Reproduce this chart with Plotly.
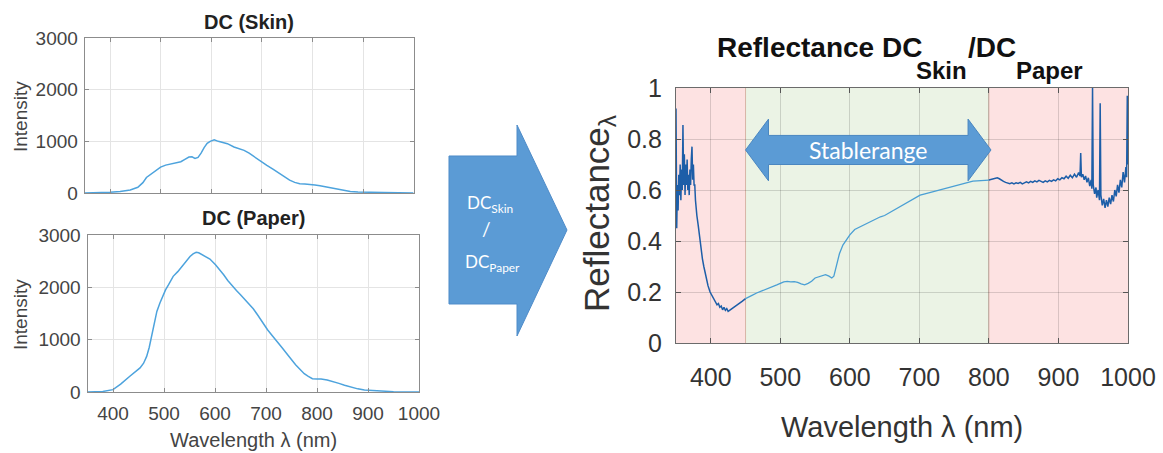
import plotly.graph_objects as go

# ---------------- data ----------------
wl_skin = [350, 380, 400, 420, 440, 455, 465, 472, 480, 490, 500, 510, 520, 530, 540, 548, 556, 562, 568, 574,
           580, 586, 592, 598, 606, 614, 622, 632, 645, 655, 665, 675, 685, 697, 710, 722, 735, 745, 755, 765,
           775, 785, 795, 805, 815, 825, 835, 848, 860, 875, 890, 910, 940, 970, 1000]
dc_skin = [0, 5, 15, 30, 60, 110, 200, 300, 360, 440, 500, 540, 560, 575, 605, 650, 695, 700, 670, 690,
           770, 880, 960, 1000, 1030, 1000, 985, 955, 890, 860, 825, 770, 700, 620, 535, 460, 375, 310, 250, 205,
           180, 172, 168, 155, 140, 120, 100, 75, 50, 30, 20, 12, 8, 5, 0]

wl_paper = [350, 380, 400, 415, 433, 445, 453, 460, 466, 471, 476, 481, 486, 492, 497, 503, 509, 518, 527, 535,
            543, 551, 557, 563, 568, 575, 582, 590, 601, 609, 617, 625, 634, 642, 650, 658, 666, 675, 683, 693,
            703, 712, 722, 732, 742, 750, 758, 766, 775, 783, 791, 800, 808, 820, 831, 843, 854, 867, 880, 893,
            907, 925, 950, 975, 1000]
dc_paper = [0, 10, 45, 150, 300, 390, 460, 550, 680, 850, 1060, 1300, 1540, 1700, 1830, 1950, 2050, 2210, 2300, 2400,
            2490, 2590, 2640, 2670, 2660, 2620, 2580, 2540, 2430, 2340, 2240, 2130, 2020, 1940, 1860, 1780, 1700, 1590, 1480, 1330,
            1190, 1080, 970, 840, 715, 610, 520, 440, 350, 300, 255, 250, 250, 230, 205, 165, 130, 95, 60, 40,
            30, 15, 5, 0, 0]

wl_refl = [350, 351, 352, 353, 354, 355, 356, 357, 358, 359, 360, 361, 362, 363, 364, 365, 366, 367, 368, 369,
           370, 371, 372, 373, 374, 375, 376, 377, 378, 379, 380, 382, 384, 386, 388, 390, 392, 394, 396, 399,
           402, 405, 407, 409, 411, 413, 415, 417, 419, 421, 423, 425, 428, 431, 434, 437, 441, 445, 450,
           455, 460, 466, 472, 478, 485, 490, 495, 500, 505, 510, 515, 520, 525, 530, 535, 540, 545, 550, 555,
           560, 565, 570, 574, 577, 581, 585, 590, 595, 600, 607, 615, 622, 629, 636, 644, 650, 655, 660, 666,
           672, 680, 688, 695, 701, 708, 715, 722, 730, 737, 745, 754, 760, 766, 772, 777, 783, 790, 796, 800,
           803, 806, 809, 812, 815, 818, 821, 824, 827, 830, 833, 836, 839, 842, 845, 848, 851, 854, 857, 860,
           863, 866, 869, 872, 875, 878, 881, 884, 887, 890, 893, 896, 899, 902, 905, 908, 911, 914, 917, 920,
           923, 926, 929, 931, 932, 933, 935, 937, 939, 941, 943, 945, 947, 948, 949, 950, 952, 954, 955, 957,
           959, 960, 961, 963, 965, 967, 969, 971, 973, 975, 977, 979, 981, 983, 985, 987, 989, 991, 993, 995,
           997, 998, 999, 1000]
reflectance = [0.92, 0.45, 0.62, 0.52, 0.66, 0.58, 0.70, 0.56, 0.68, 0.60, 0.855, 0.62, 0.74, 0.58, 0.70, 0.62, 0.72, 0.60, 0.66, 0.58,
               0.68, 0.62, 0.72, 0.77, 0.64, 0.70, 0.62, 0.62, 0.56, 0.52, 0.50, 0.46, 0.41, 0.36, 0.33, 0.30, 0.27, 0.245, 0.225, 0.20,
               0.185, 0.17, 0.165, 0.15, 0.155, 0.14, 0.145, 0.13, 0.14, 0.128, 0.135, 0.124, 0.13, 0.135, 0.14, 0.145, 0.155, 0.163, 0.174,
               0.182, 0.188, 0.196, 0.202, 0.208, 0.216, 0.222, 0.228, 0.234, 0.24, 0.242, 0.24, 0.241, 0.238, 0.232, 0.228, 0.234, 0.242, 0.255, 0.26,
               0.264, 0.268, 0.262, 0.255, 0.262, 0.306, 0.35, 0.384, 0.405, 0.424, 0.445, 0.456, 0.466, 0.476, 0.485, 0.495, 0.50, 0.508, 0.515, 0.525,
               0.535, 0.548, 0.56, 0.57, 0.58, 0.585, 0.59, 0.595, 0.60, 0.606, 0.612, 0.62, 0.624, 0.628, 0.632, 0.635, 0.636, 0.637, 0.638, 0.639,
               0.642, 0.645, 0.648, 0.648, 0.644, 0.638, 0.634, 0.630, 0.628, 0.625, 0.628, 0.624, 0.628, 0.626, 0.630, 0.624, 0.628, 0.632, 0.628, 0.634,
               0.630, 0.636, 0.632, 0.638, 0.634, 0.630, 0.636, 0.632, 0.638, 0.634, 0.640, 0.636, 0.644, 0.640, 0.648, 0.644, 0.654, 0.646, 0.658, 0.648,
               0.662, 0.650, 0.668, 0.655, 0.745, 0.650, 0.662, 0.640, 0.655, 0.630, 0.648, 0.615, 0.64, 0.605, 1.00, 0.62, 0.585, 0.61, 0.57, 0.60,
               0.56, 0.94, 0.58, 0.54, 0.565, 0.53, 0.56, 0.535, 0.57, 0.545, 0.58, 0.555, 0.60, 0.575, 0.62, 0.59, 0.64, 0.61, 0.67, 0.63,
               0.69, 0.65, 0.97, 0.70]

stable_range = [450, 800]
x_ticks = [400, 500, 600, 700, 800, 900, 1000]
intensity_ticks = [0, 1000, 2000, 3000]
refl_ticks = [0, 0.2, 0.4, 0.6, 0.8, 1]
refl_tick_labels = ["0", "0.2", "0.4", "0.6", "0.8", "1"]

# ---------------- helpers ----------------
W, H = 1163, 453
def px(x):
    return x / W
def py(y):
    return 1 - y / H

FONT = "Liberation Sans, Arial, sans-serif"
LATO = "Lato, Calibri, sans-serif"
LEFT_LINE = "#4da3dd"
DARK_LINE = "#1d5ea8"
LIGHT_LINE = "#4a9fd4"

fig = go.Figure()

fig.add_trace(go.Scatter(x=wl_skin, y=dc_skin, mode="lines", line=dict(color=LEFT_LINE, width=1.5),
                         xaxis="x", yaxis="y", showlegend=False, hoverinfo="skip"))
fig.add_trace(go.Scatter(x=wl_paper, y=dc_paper, mode="lines", line=dict(color=LEFT_LINE, width=1.5),
                         xaxis="x2", yaxis="y2", showlegend=False, hoverinfo="skip"))

lo, hi = stable_range
seg_left = [(w, r) for w, r in zip(wl_refl, reflectance) if w <= lo]
seg_mid = [(w, r) for w, r in zip(wl_refl, reflectance) if lo <= w <= hi]
seg_right = [(w, r) for w, r in zip(wl_refl, reflectance) if w >= hi]
for seg, col, wd in [(seg_left, DARK_LINE, 1.5), (seg_mid, LIGHT_LINE, 1.3), (seg_right, DARK_LINE, 1.5)]:
    fig.add_trace(go.Scatter(x=[s[0] for s in seg], y=[s[1] for s in seg], mode="lines",
                             line=dict(color=col, width=wd), xaxis="x3", yaxis="y3",
                             showlegend=False, hoverinfo="skip"))

left_axis_common = dict(showline=True, linecolor="#8c8c8c", linewidth=1, mirror="ticks",
                        ticks="inside", ticklen=4, tickcolor="#8c8c8c", automargin=False,
                        showgrid=True, gridcolor="#e4e4e4", gridwidth=1, zeroline=False,
                        tickfont=dict(family=FONT, size=19, color="#444"))

fig.update_layout(
    width=W, height=H, autosize=False,
    margin=dict(l=0, r=0, t=0, b=0, pad=0),
    paper_bgcolor="white", plot_bgcolor="white",
    xaxis=dict(domain=[px(84.7), px(413.6)], anchor="y", range=[350, 1000], tickvals=x_ticks,
               showticklabels=False, **left_axis_common),
    yaxis=dict(domain=[py(193), py(38)], anchor="x", range=[0, 3000], tickvals=intensity_ticks,
               ticklabelstandoff=2, **left_axis_common),
    xaxis2=dict(domain=[px(87.5), px(419)], anchor="y2", range=[350, 1000], tickvals=x_ticks,
                ticklabelstandoff=4, **left_axis_common),
    yaxis2=dict(domain=[py(392), py(235)], anchor="x2", range=[0, 3000], tickvals=intensity_ticks,
                ticklabelstandoff=2, **left_axis_common),
    xaxis3=dict(domain=[px(676), px(1128)], anchor="y3", range=[350, 1000], tickvals=x_ticks,
                showline=True, linecolor="#6b6b6b", linewidth=1.2, mirror="ticks",
                ticks="inside", ticklen=5, tickcolor="#555", automargin=False,
                showgrid=True, gridcolor="rgba(0,0,0,0.14)", zeroline=False, layer="above traces",
                ticklabelstandoff=12,
                tickfont=dict(family=FONT, size=25, color="#333")),
    yaxis3=dict(domain=[py(343), py(88)], anchor="x3", range=[0, 1], tickvals=refl_ticks,
                ticktext=refl_tick_labels, automargin=False,
                showline=True, linecolor="#6b6b6b", linewidth=1.2, mirror="ticks",
                ticks="inside", ticklen=5, tickcolor="#555",
                showgrid=True, gridcolor="rgba(0,0,0,0.14)", zeroline=False,
                ticklabelstandoff=8,
                tickfont=dict(family=FONT, size=25, color="#333")),
)

shapes = []
# shaded ranges
for x0, x1, col in [(350, lo, "#fde2e2"), (lo, hi, "#ebf3e5"), (hi, 1000, "#fde2e2")]:
    shapes.append(dict(type="rect", xref="x3", yref="y3 domain", x0=x0, x1=x1, y0=0, y1=1,
                       fillcolor=col, line=dict(width=0), layer="below"))
for xv in stable_range:
    shapes.append(dict(type="line", xref="x3", yref="y3 domain", x0=xv, x1=xv, y0=0, y1=1,
                       line=dict(color="#d8b4a6", width=1), layer="below"))

# double arrow for stable range (in data coords)
yc, hh, bh, hl = 0.757, 0.121, 0.057, 33
xa, xb = lo, hi + 3
arrow_path = (f"M {xa},{yc} L {xa+hl},{yc+hh} L {xa+hl},{yc+bh} L {xb-hl},{yc+bh} L {xb-hl},{yc+hh} "
              f"L {xb},{yc} L {xb-hl},{yc-hh} L {xb-hl},{yc-bh} L {xa+hl},{yc-bh} L {xa+hl},{yc-hh} Z")
shapes.append(dict(type="path", xref="x3", yref="y3", path=arrow_path, fillcolor="#5b9bd5",
                   line=dict(color="#4a86c0", width=1), layer="above"))

# big block arrow in the middle (paper coords)
pts = [(449, 156), (517, 156), (517, 125), (567, 230), (517, 336), (517, 304), (449, 304)]
big_path = "M " + " L ".join(f"{px(a):.5f},{py(b):.5f}" for a, b in pts) + " Z"
shapes.append(dict(type="path", xref="paper", yref="paper", path=big_path, fillcolor="#5b9bd5",
                   line=dict(color="#4f8cc9", width=1), layer="above"))
fig.update_layout(shapes=shapes)

ann = []
def text(x, y, s, size, color="#222", bold=False, angle=0, xanchor="center", family=FONT, yanchor="middle"):
    ann.append(dict(x=px(x), y=py(y), xref="paper", yref="paper", text=(f"<b>{s}</b>" if bold else s),
                    showarrow=False, textangle=angle, xanchor=xanchor, yanchor=yanchor, borderpad=0,
                    font=dict(family=family, size=size, color=color)))

text(249, 22, "DC (Skin)", 20, bold=True)
text(253, 218, "DC (Paper)", 20, bold=True)
text(20, 117, "Intensity", 19, color="#444", angle=-90)
text(20, 315, "Intensity", 19, color="#444", angle=-90)
text(253, 440, "Wavelength λ (nm)", 20, color="#444")

# right title pieces
text(923, 48, "Reflectance DC", 28, color="#111", bold=True, xanchor="right")
text(915, 70, "Skin", 24, color="#111", bold=True, xanchor="left")
text(967, 48, "/DC", 28, color="#111", bold=True, xanchor="left")
text(1015, 70, "Paper", 24, color="#111", bold=True, xanchor="left")

text(599, 213, "Reflectance<sub>λ</sub>", 35, color="#333", angle=-90)
text(902, 427, "Wavelength λ (nm)", 29, color="#333")

# arrow labels
text(490, 204, "DC<sub>Skin</sub>", 17, color="white", family=LATO)
text(486, 228, "/", 19, color="white", family=LATO)
text(492, 263, "DC<sub>Paper</sub>", 17, color="white", family=LATO)

ann.append(dict(x=(lo + hi + 3) / 2, y=yc, xref="x3", yref="y3", text="Stablerange", showarrow=False,
                font=dict(family=LATO, size=23, color="white"), xanchor="center", yanchor="middle"))

fig.update_layout(annotations=ann)

fig.write_html("out.html")
